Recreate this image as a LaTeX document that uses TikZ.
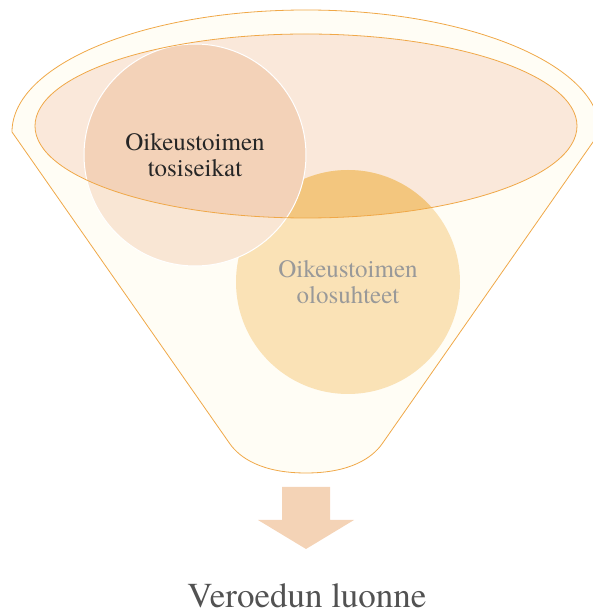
\documentclass[tikz,border=0pt]{standalone}
\usepackage{fontspec}
\setmainfont{TeX Gyre Termes}
\definecolor{Cream}{HTML}{FFFDF5}
\definecolor{Rim}{HTML}{F0A848}
\definecolor{Bowl}{HTML}{FAE8DA}
\definecolor{PeachIn}{HTML}{F3D2B8}
\definecolor{PeachOut}{HTML}{F9E6D4}
\definecolor{AmberIn}{HTML}{F3C67E}
\definecolor{AmberOut}{HTML}{FAE2B6}
\definecolor{Arrow}{HTML}{F4D3B6}
\newcommand\bowlpath{(306,490) ellipse [x radius=271, y radius=92]}
\begin{document}
\begin{tikzpicture}[
  x=1pt,
  y=1pt,
  label/.style={align=center, font=\rmfamily\fontsize{25}{26}\selectfont},
  ]
\useasboundingbox (0,0) rectangle (592,616);
\coordinate (tosi) at (195,461);
\coordinate (olo) at (348,334);
\filldraw[fill=Cream, draw=Rim, line width=0.8pt]
  (12,484) arc[start angle=180, end angle=0, x radius=294, y radius=122]
  -- (382,172) .. controls (372,158) and (350,143) .. (306,143)
  .. controls (262,143) and (240,158) .. (230,172) -- cycle;
\fill[Bowl] \bowlpath;
\fill[AmberOut] (olo) circle (112);
\begin{scope}
  \clip \bowlpath;
  \fill[AmberIn] (olo) circle (112);
  \end{scope}
\fill[PeachOut] (tosi) circle (111);
\begin{scope}
  \clip \bowlpath;
  \fill[PeachIn] (tosi) circle (111);
  \end{scope}
\draw[white, line width=1pt] (tosi) circle (111);
\draw[Rim, line width=0.8pt] \bowlpath;
\node[label, text=black!85] (tositext) at (tosi) {Oikeustoimen\\tosiseikat};
\node[label, text=black!40] (olotext) at (olo) {Oikeustoimen\\olosuhteet};
\fill[Arrow] (282,129) -- (330,129) -- (330,96) -- (354,96) -- (306,67)
  -- (258,96) -- (282,96) -- cycle;
\node[anchor=base, text=black!68, font=\rmfamily\fontsize{35}{40}\selectfont]
  (luonne) at (307,9) {Veroedun luonne};
\end{tikzpicture}
\end{document}
